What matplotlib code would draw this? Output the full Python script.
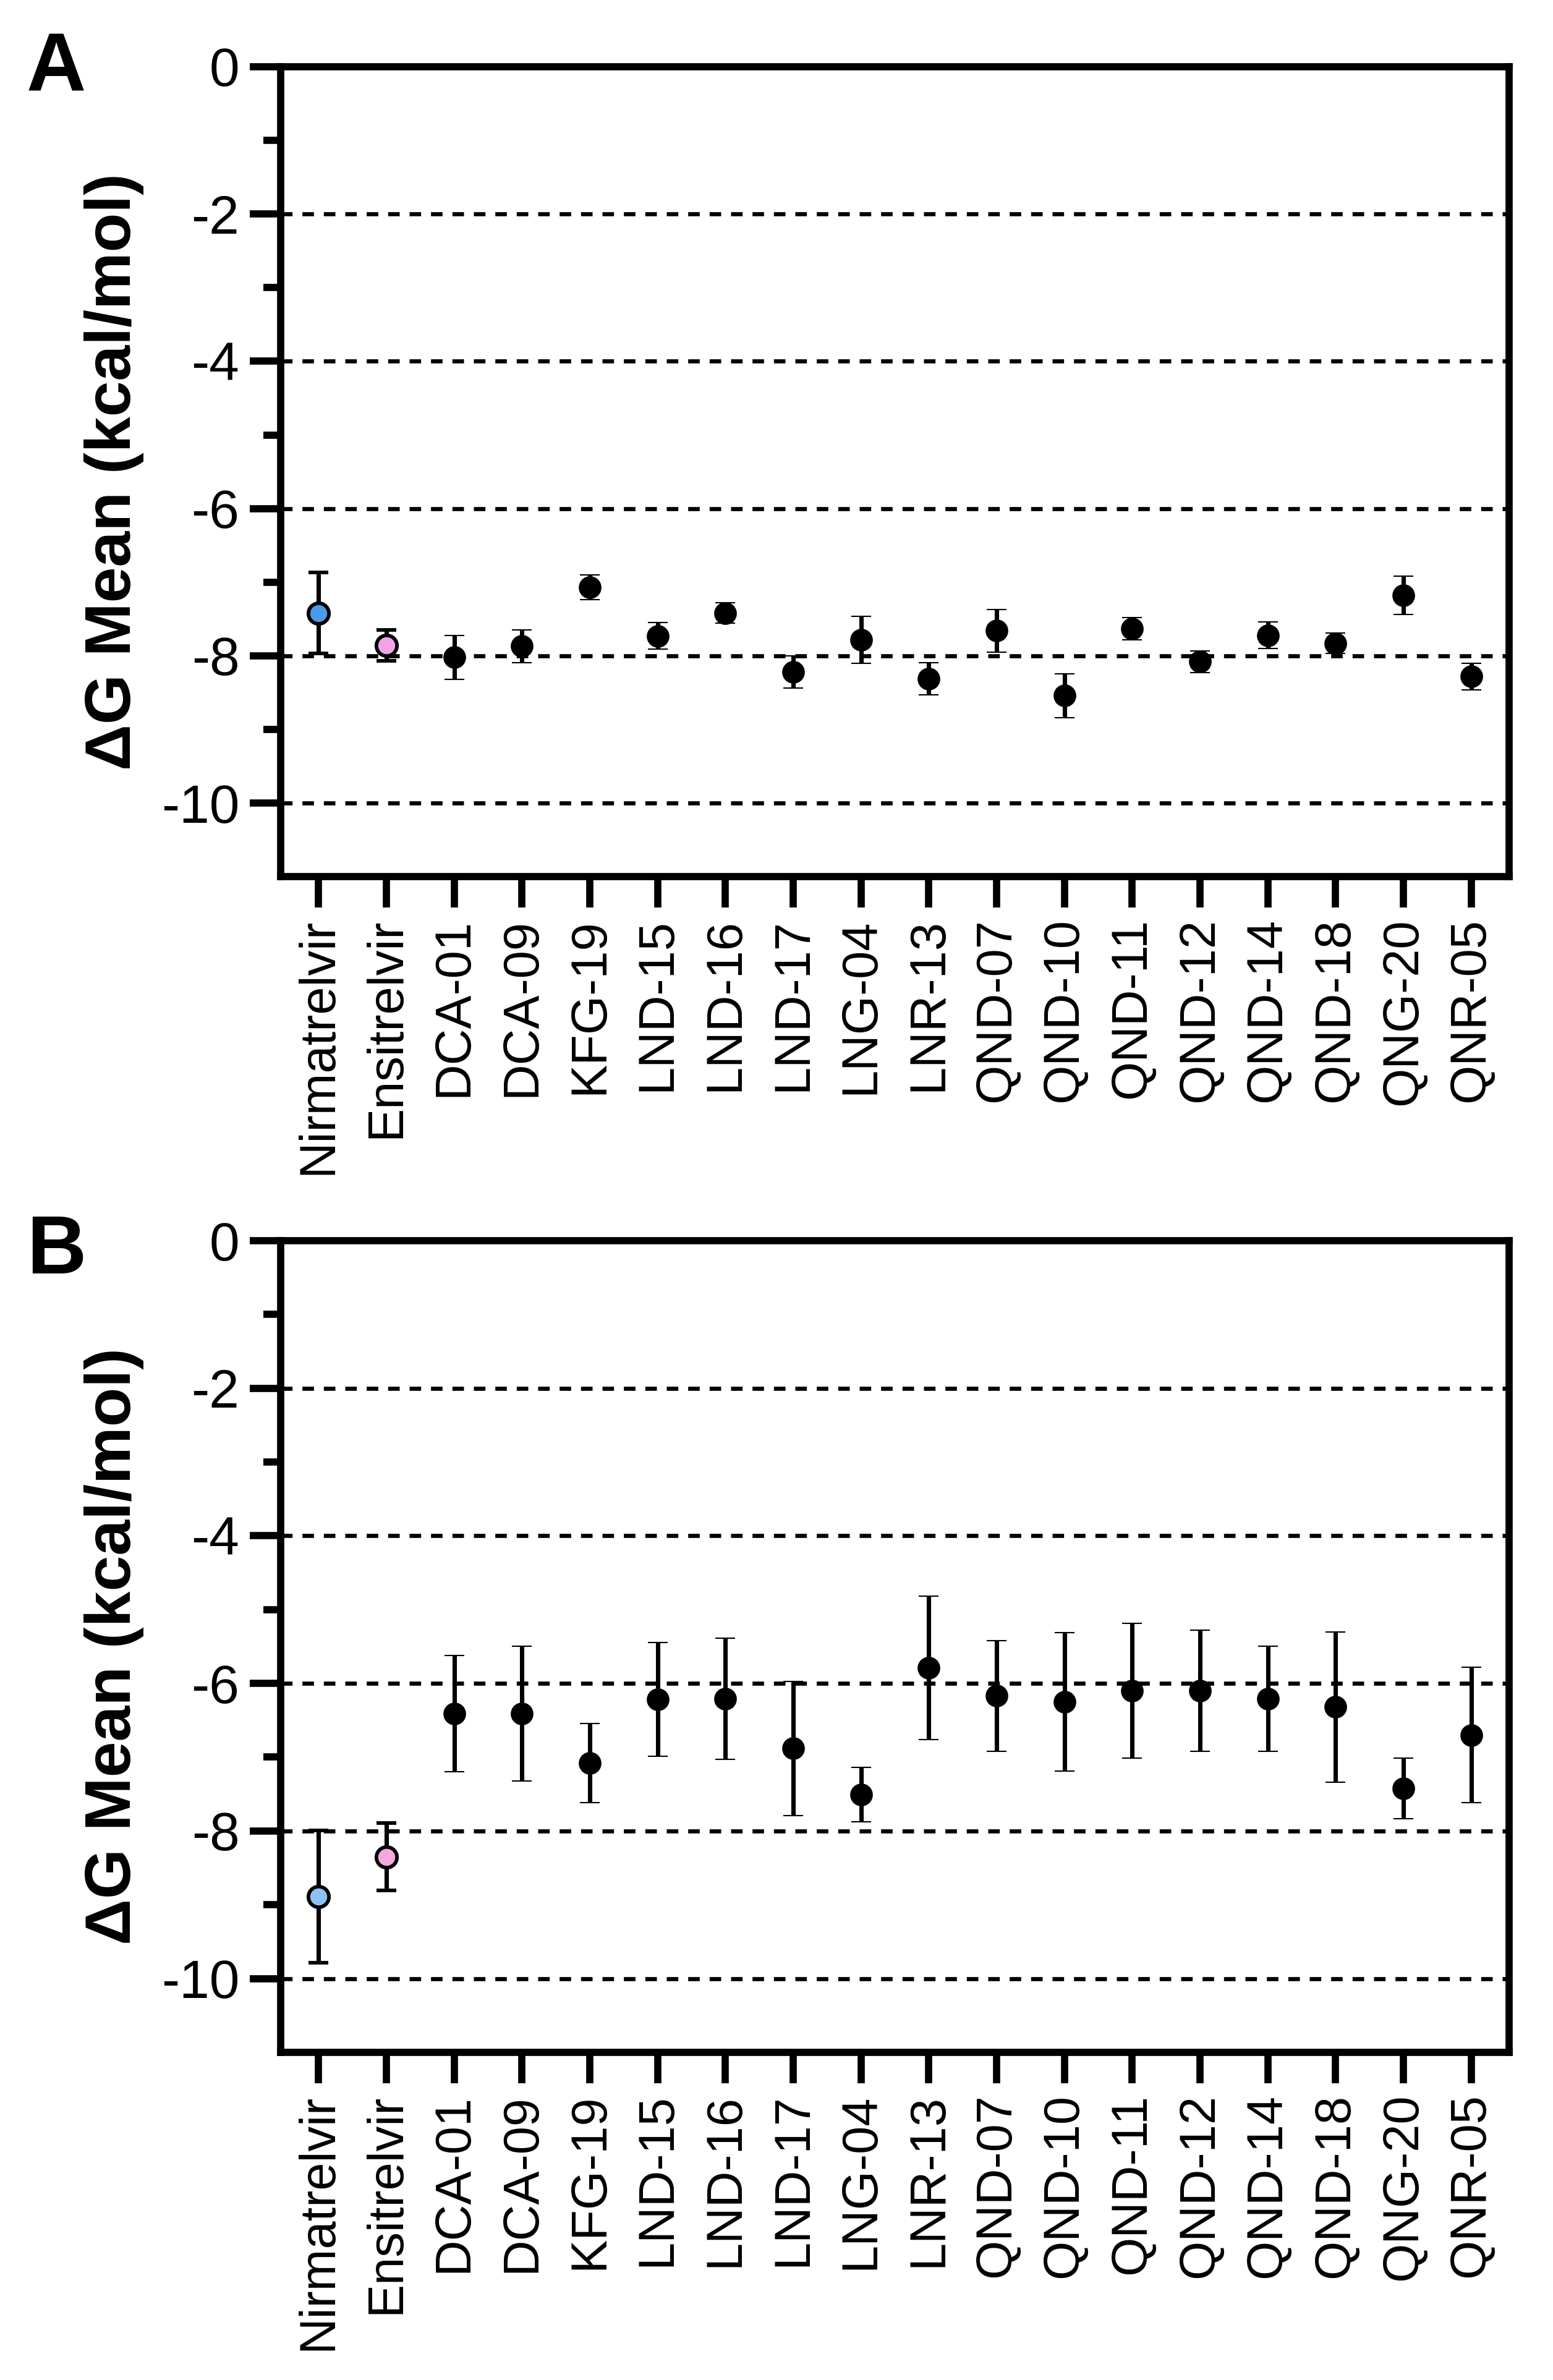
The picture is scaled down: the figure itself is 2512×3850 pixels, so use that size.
import matplotlib
matplotlib.use('Agg')
import matplotlib.pyplot as plt
from matplotlib.ticker import FixedLocator

plt.rcParams['font.family'] = ['Liberation Sans', 'DejaVu Sans']

# compounds on the x axis
compounds = ['Nirmatrelvir', 'Ensitrelvir', 'DCA-01', 'DCA-09', 'KFG-19', 'LND-15',
             'LND-16', 'LND-17', 'LNG-04', 'LNR-13', 'QND-07', 'QND-10', 'QND-11',
             'QND-12', 'QND-14', 'QND-18', 'QNG-20', 'QNR-05']

# panel A: mean dG and error
mean_a = [-7.42, -7.86, -8.02, -7.87, -7.07, -7.73, -7.42, -8.22, -7.78,
          -8.31, -7.66, -8.54, -7.63, -8.08, -7.72, -7.83, -7.18, -8.28]
err_a = [0.55, 0.21, 0.30, 0.22, 0.17, 0.18, 0.14, 0.22, 0.32,
         0.22, 0.29, 0.30, 0.15, 0.15, 0.18, 0.14, 0.26, 0.18]

# panel B: mean dG and error
mean_b = [-8.89, -8.35, -6.41, -6.41, -7.08, -6.22, -6.21, -6.88, -7.51,
          -5.79, -6.17, -6.25, -6.10, -6.10, -6.21, -6.32, -7.42, -6.70]
err_b = [0.90, 0.46, 0.79, 0.91, 0.54, 0.77, 0.82, 0.91, 0.37,
         0.97, 0.75, 0.94, 0.91, 0.82, 0.71, 1.02, 0.41, 0.92]

# reference drug colours (Nirmatrelvir, Ensitrelvir)
ref_colors_a = ['#4a9ae8', '#f2a4e6']
ref_colors_b = ['#8ec1f5', '#f5a8e0']

ytick_vals = [0, -2, -4, -6, -8, -10]
ytick_text = ['0', '-2', '-4', '-6', '-8', '-10']

fig = plt.figure(figsize=(2512 / 300, 3850 / 300), dpi=300)
ax_a = fig.add_axes([0.1807, 0.6316, 0.7910, 0.3404])
ax_b = fig.add_axes([0.1807, 0.1377, 0.7910, 0.3410])


def draw_panel(ax, means, errs, ref_colors, letter, ly):
    x = list(range(len(compounds)))
    for yg in ytick_vals[1:]:
        ax.axhline(yg, color='black', lw=1.6, ls=(0, (2.8, 2.4)), zorder=1)
    for i in x:
        if i < 2:
            fc, ms, mew = ref_colors[i], 8.0, 1.4
        else:
            fc, ms, mew = 'black', 8.3, 0.5
        ax.errorbar(i, means[i], yerr=errs[i], fmt='o', color='black',
                    mfc=fc, mec='black', ms=ms, mew=mew, elinewidth=1.7,
                    capsize=3.8, capthick=1.9, zorder=3)
    ax.set_xlim(-0.56, len(compounds) - 1 + 0.56)
    ax.set_ylim(-11, 0)
    ax.set_xticks(x)
    ax.set_xticklabels(compounds, rotation=90, fontsize=19.5)
    ax.yaxis.set_major_locator(FixedLocator(ytick_vals))
    ax.yaxis.set_minor_locator(FixedLocator([-1, -3, -5, -7, -9]))
    ax.set_yticklabels(ytick_text, fontsize=21)
    ax.tick_params(axis='both', which='major', length=12, width=2.8, pad=4)
    ax.tick_params(axis='y', which='minor', length=6.8, width=2.8)
    for sp in ax.spines.values():
        sp.set_linewidth(2.8)
    ax.set_ylabel('ΔG Mean (kcal/mol)', fontsize=25, fontweight='bold')
    ax.yaxis.set_label_coords(-0.111, 0.5)
    fig.text(0.017, ly, letter, fontsize=32, fontweight='bold', va='top', ha='left')


draw_panel(ax_a, mean_a, err_a, ref_colors_a, 'A', 0.987)
draw_panel(ax_b, mean_b, err_b, ref_colors_b, 'B', 0.490)

fig.savefig('out.png', dpi=300, facecolor='white')
